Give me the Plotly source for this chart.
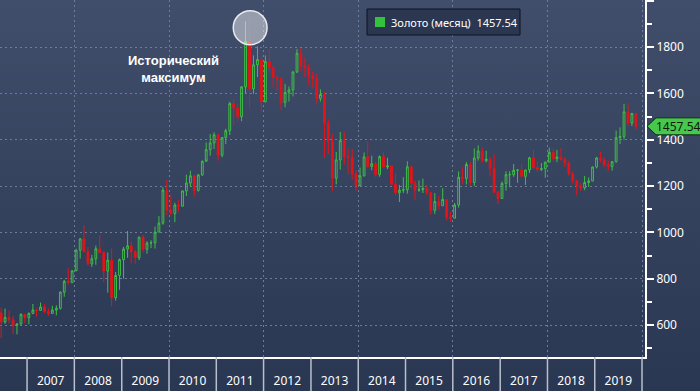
import base64
import plotly.graph_objects as go

# ---------------- data (monthly gold OHLC, Jun 2006 .. Nov 2019) ----------------
months = [f"{y}-{m:02d}-15" for y in range(2006, 2020) for m in range(1, 13)]
months = months[5:5 + 162]  # Jun 2006 .. Nov 2019

opens = [
    653, 613, 633, 623, 599, 604, 646,
    632, 650, 665, 663, 678, 658, 650, 665, 672, 742, 789, 783,
    834, 923, 972, 916, 864, 886, 929, 913, 833, 880, 718, 814,
    882, 928, 942, 916, 891, 979, 927, 954, 955, 1001, 1040, 1182,
    1096, 1081, 1118, 1113, 1179, 1213, 1244, 1181, 1248, 1307, 1357, 1386,
    1421, 1333, 1409, 1439, 1556, 1536, 1500, 1628, 1825, 1620, 1723, 1746,
    1564, 1737, 1710, 1669, 1664, 1561, 1604, 1615, 1692, 1773, 1719, 1711,
    1675, 1663, 1578, 1595, 1472, 1393, 1234, 1313, 1396, 1327, 1323, 1253,
    1202, 1244, 1326, 1284, 1296, 1250, 1327, 1282, 1287, 1208, 1171, 1182,
    1184, 1283, 1213, 1183, 1184, 1190, 1172, 1095, 1133, 1115, 1142, 1065,
    1061, 1118, 1238, 1233, 1293, 1215, 1321, 1351, 1309, 1316, 1277, 1173,
    1146, 1211, 1249, 1249, 1268, 1269, 1242, 1269, 1322, 1280, 1271, 1275,
    1303, 1345, 1318, 1325, 1315, 1299, 1253, 1224, 1201, 1192, 1215, 1222,
    1282, 1321, 1313, 1292, 1284, 1305, 1409, 1414, 1520, 1472, 1513,
]
highs = [
    675, 671, 663, 639, 608, 650, 648,
    655, 691, 671, 697, 690, 671, 683, 685, 745, 795, 845, 837,
    929, 975, 1032, 935, 903, 943, 988, 919, 913, 931, 829, 887,
    937, 1006, 961, 924, 982, 990, 962, 966, 1025, 1070, 1195, 1227,
    1162, 1128, 1138, 1179, 1249, 1266, 1245, 1252, 1310, 1388, 1424, 1432,
    1424, 1411, 1447, 1564, 1577, 1553, 1632, 1911, 1921, 1764, 1803, 1763,
    1764, 1791, 1719, 1677, 1668, 1641, 1630, 1697, 1791, 1796, 1755, 1726,
    1694, 1685, 1617, 1605, 1487, 1424, 1347, 1433, 1434, 1361, 1361, 1267,
    1280, 1345, 1392, 1331, 1306, 1332, 1345, 1322, 1287, 1255, 1205, 1238,
    1307, 1283, 1224, 1224, 1232, 1205, 1174, 1170, 1157, 1191, 1142, 1088,
    1127, 1263, 1283, 1304, 1303, 1362, 1375, 1367, 1352, 1326, 1337, 1180,
    1220, 1264, 1264, 1295, 1273, 1296, 1270, 1326, 1357, 1306, 1299, 1305,
    1366, 1361, 1356, 1365, 1326, 1309, 1265, 1225, 1214, 1243, 1237, 1284,
    1326, 1347, 1324, 1310, 1306, 1439, 1453, 1555, 1557, 1516, 1516,
]
lows = [
    543, 605, 606, 561, 560, 602, 609,
    603, 647, 637, 664, 651, 640, 649, 642, 667, 722, 775, 782,
    838, 887, 917, 857, 851, 860, 909, 786, 740, 681, 705, 752,
    800, 890, 866, 865, 880, 913, 908, 932, 930, 1001, 1033, 1075,
    1075, 1044, 1088, 1110, 1157, 1197, 1155, 1176, 1244, 1315, 1331, 1360,
    1309, 1324, 1381, 1420, 1462, 1478, 1480, 1600, 1535, 1598, 1670, 1523,
    1561, 1689, 1627, 1612, 1527, 1540, 1565, 1587, 1688, 1693, 1672, 1635,
    1626, 1555, 1565, 1321, 1338, 1180, 1207, 1271, 1292, 1251, 1227, 1180,
    1202, 1241, 1277, 1268, 1240, 1240, 1281, 1273, 1206, 1160, 1131, 1170,
    1167, 1190, 1142, 1175, 1170, 1162, 1077, 1080, 1098, 1114, 1052, 1046,
    1061, 1107, 1208, 1207, 1200, 1200, 1310, 1301, 1302, 1241, 1171, 1122,
    1146, 1180, 1195, 1240, 1214, 1237, 1205, 1256, 1274, 1260, 1264, 1236,
    1303, 1307, 1303, 1310, 1282, 1245, 1211, 1160, 1180, 1182, 1196, 1221,
    1276, 1302, 1281, 1266, 1266, 1301, 1381, 1400, 1459, 1459, 1445,
]
closes = [
    613, 633, 623, 599, 604, 646, 632,
    650, 665, 663, 678, 658, 650, 665, 672, 742, 789, 783, 834,
    923, 972, 916, 864, 886, 929, 913, 833, 880, 718, 814, 882,
    928, 942, 916, 891, 979, 927, 954, 955, 1001, 1040, 1182, 1096,
    1081, 1118, 1113, 1179, 1213, 1244, 1181, 1248, 1307, 1357, 1386, 1421,
    1333, 1409, 1439, 1556, 1536, 1500, 1628, 1825, 1620, 1723, 1746, 1564,
    1737, 1710, 1669, 1664, 1561, 1604, 1615, 1692, 1773, 1719, 1711, 1675,
    1663, 1578, 1595, 1472, 1393, 1234, 1313, 1396, 1327, 1323, 1253, 1202,
    1244, 1326, 1284, 1296, 1250, 1327, 1282, 1287, 1208, 1171, 1182, 1184,
    1283, 1213, 1183, 1184, 1190, 1172, 1095, 1133, 1115, 1142, 1065, 1061,
    1118, 1238, 1233, 1293, 1215, 1321, 1351, 1309, 1316, 1277, 1173, 1146,
    1211, 1249, 1249, 1268, 1269, 1242, 1269, 1322, 1280, 1271, 1275, 1303,
    1345, 1318, 1325, 1315, 1299, 1253, 1224, 1201, 1192, 1215, 1222, 1282,
    1321, 1313, 1292, 1284, 1305, 1409, 1414, 1520, 1472, 1513, 1457.54,
]

year_labels = [str(y) for y in range(2007, 2020)]
year_bounds = [f"{y}-01-01" for y in range(2007, 2021)]
series_name = "Золото (месяц)"
last_value = closes[-1]
peak_label = "Исторический<br>максимум"

# ---------------- figure ----------------
W, H = 700, 391
L, R, T, B = 0, 55, 0, 34
pw, ph = W - L - R, H - T - B


def px_x(p):
    return p / pw


def px_y(p):
    return 1 - p / ph


fig = go.Figure()
fig.add_trace(go.Candlestick(
    x=months, open=opens, high=highs, low=lows, close=closes,
    increasing=dict(line=dict(color="#3fbf45", width=1), fillcolor="rgba(0,0,0,0)"),
    decreasing=dict(line=dict(color="#e3141a", width=1), fillcolor="#e3141a"),
    whiskerwidth=0, showlegend=False, hoverinfo="skip",
))

# gradient background
svg = ('<svg xmlns="http://www.w3.org/2000/svg" width="700" height="391" preserveAspectRatio="none">'
       '<defs><linearGradient id="g" x1="0" y1="0" x2="0" y2="1">'
       '<stop offset="0" stop-color="#414e6b"/><stop offset="1" stop-color="#2a3752"/>'
       '</linearGradient></defs><rect width="700" height="391" fill="url(#g)"/></svg>')
src = "data:image/svg+xml;base64," + base64.b64encode(svg.encode()).decode()
fig.add_layout_image(dict(source=src, xref="paper", yref="paper", x=0, y=1,
                          sizex=W / pw, sizey=H / ph, sizing="stretch",
                          xanchor="left", yanchor="top", layer="below"))

# year separators below axis
for xb in year_bounds:
    fig.add_shape(type="line", xref="x", yref="paper", x0=xb, x1=xb, y0=-B / ph, y1=0,
                  line=dict(color="#b9bfcc", width=1.5))

# peak circle
fig.add_shape(type="circle", xref="x", yref="y",
              x0="2011-05-12", x1="2012-01-28", y0=1810, y1=1957,
              fillcolor="rgba(255,255,255,0.45)", line=dict(color="#e8eaf0", width=1.5),
              layer="above")

fig.add_annotation(text=peak_label, xref="paper", yref="paper",
                   x=px_x(173), y=px_y(69), xanchor="center", yanchor="middle",
                   showarrow=False,
                   font=dict(family="Liberation Sans", size=13, color="white", weight="bold"),
                   align="center")

# legend box
fig.add_shape(type="rect", xref="paper", yref="paper",
              x0=px_x(367), x1=px_x(520), y0=px_y(35), y1=px_y(9),
              fillcolor="#2b3650", line=dict(color="#0d1220", width=1))
fig.add_shape(type="rect", xref="paper", yref="paper",
              x0=px_x(375), x1=px_x(385), y0=px_y(27), y1=px_y(17),
              fillcolor="#33c23d", line=dict(width=0))
fig.add_annotation(text=f"{series_name}  {last_value:.2f}", xref="paper", yref="paper",
                   x=px_x(389), y=px_y(22), xanchor="left", yanchor="middle",
                   showarrow=False, font=dict(family="Noto Sans", size=11, color="white"))

# last value tag
half = 8.5 * (2003 - 462) / ph
fig.add_shape(type="path", xref="paper", yref="y",
              path=(f"M {px_x(647)},{last_value} L {px_x(656)},{last_value + half} "
                    f"L {px_x(701)},{last_value + half} L {px_x(701)},{last_value - half} "
                    f"L {px_x(656)},{last_value - half} Z"),
              fillcolor="#47c84c", line=dict(color="#0f2a10", width=1))
fig.add_annotation(text=f"{last_value:.2f}", xref="paper", yref="y",
                   x=px_x(654), y=last_value, xanchor="left", yanchor="middle",
                   showarrow=False, font=dict(family="Noto Sans", size=12, color="#0c1a0c"))

grid_col = "#6d7d99"
fig.update_layout(
    width=W, height=H, margin=dict(l=L, r=R, t=T, b=B, pad=0, autoexpand=False),
    paper_bgcolor="#2b3853", plot_bgcolor="rgba(0,0,0,0)",
    showlegend=False,
    xaxis=dict(
        type="date", range=["2006-06-06", "2020-01-24"], automargin=False,
        rangeslider=dict(visible=False),
        tickmode="array", tickvals=[f"{y}-07-02" for y in year_labels], ticktext=year_labels,
        ticks="", ticklabelstandoff=12,
        tickfont=dict(family="Noto Sans", size=12, color="white"),
        showline=True, linecolor="white", linewidth=2,
        showgrid=False, zeroline=False,
        minor=dict(tickmode="array", tickvals=[f"{y}-01-01" for y in range(2008, 2021, 2)],
                   showgrid=True, gridcolor=grid_col, griddash="2px,3px", gridwidth=1, ticks=""),
    ),
    yaxis=dict(
        side="right", range=[462, 2003], dtick=200, tick0=0, automargin=False,
        showline=True, linecolor="white", linewidth=2,
        ticks="outside", ticklen=7, tickwidth=2, tickcolor="white",
        tickfont=dict(family="Noto Sans", size=12, color="white"),
        showgrid=True, gridcolor=grid_col, griddash="2px,3px", gridwidth=1,
        zeroline=False,
        minor=dict(dtick=100, tick0=0, ticks="outside", ticklen=5, tickwidth=1.5,
                   tickcolor="white", showgrid=False),
    ),
)

fig.write_html("out.html", config={"displayModeBar": False},
               post_script="document.body.style.margin='0';document.body.style.background='#2b3853';")
